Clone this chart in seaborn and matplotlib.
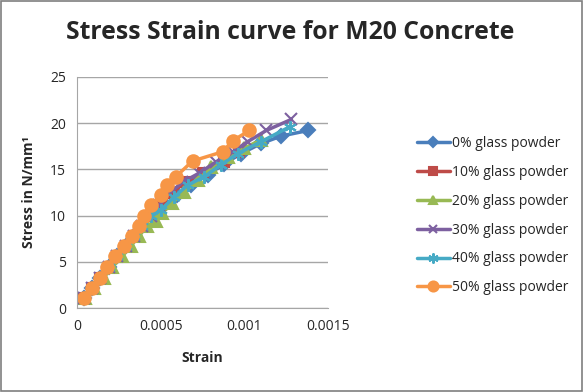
import matplotlib
matplotlib.use("Agg")
import matplotlib.pyplot as plt
import seaborn as sns
import pandas as pd

# values
labels = ["0% glass powder", "10% glass powder", "20% glass powder",
          "30% glass powder", "40% glass powder", "50% glass powder"]

strain_0 = [0.00004, 0.00009, 0.00014, 0.00019, 0.00024, 0.00029, 0.00034, 0.00039, 0.00045,
            0.00052, 0.00060, 0.00068, 0.00078, 0.00088, 0.00098, 0.00110, 0.00122, 0.00138]
stress_0 = [1.1, 2.2, 3.3, 4.4, 5.6, 6.7, 7.8, 8.9, 10.0, 11.1, 12.2, 13.3, 14.4, 15.6, 16.7,
            17.8, 18.6, 19.2]

strain_10 = [0.00004, 0.00009, 0.00014, 0.00019, 0.00024, 0.00029, 0.00034, 0.00039, 0.00044,
             0.00050, 0.00056, 0.00065, 0.00075, 0.00088, 0.00097]
stress_10 = [1.1, 2.2, 3.3, 4.4, 5.6, 6.7, 7.8, 8.9, 10.0, 11.1, 12.4, 13.6, 14.6, 15.8, 16.9]

strain_20 = [0.00005, 0.00010, 0.00016, 0.00021, 0.00027, 0.00032, 0.00037, 0.00042, 0.00047,
             0.00051, 0.00057, 0.00064, 0.00072, 0.00080, 0.00090, 0.00100, 0.00110]
stress_20 = [1.1, 2.2, 3.3, 4.4, 5.6, 6.7, 7.8, 8.9, 9.4, 10.3, 11.4, 12.5, 13.8, 15.2, 16.3,
             17.3, 18.2]

strain_30 = [0.00004, 0.00009, 0.00014, 0.00019, 0.00024, 0.00029, 0.00034, 0.00039, 0.00044,
             0.00049, 0.00055, 0.00063, 0.00073, 0.00083, 0.00093, 0.00102, 0.00113, 0.00128]
stress_30 = [1.1, 2.2, 3.3, 4.4, 5.6, 6.7, 7.8, 8.9, 10.0, 11.1, 12.4, 13.6, 14.6, 15.8, 16.9,
             18.0, 19.2, 20.4]

strain_40 = [0.00004, 0.00009, 0.00014, 0.00019, 0.00024, 0.00029, 0.00034, 0.00039, 0.00044,
             0.00050, 0.00058, 0.00066, 0.00076, 0.00086, 0.00096, 0.00110, 0.00127]
stress_40 = [1.1, 2.2, 3.3, 4.4, 5.6, 6.7, 7.8, 8.9, 10.0, 10.6, 12.0, 13.3, 14.2, 15.5, 16.7,
             18.0, 19.6]

strain_50 = [0.00004, 0.00009, 0.00014, 0.00018, 0.00023, 0.00028, 0.00033, 0.00037, 0.00040,
             0.00044, 0.00050, 0.00054, 0.00059, 0.00069, 0.00087, 0.00093, 0.00103]
stress_50 = [1.1, 2.2, 3.3, 4.4, 5.6, 6.7, 7.8, 8.9, 10.0, 11.1, 12.2, 13.3, 14.2, 15.9, 16.9,
             18.1, 19.2]

strains = [strain_0, strain_10, strain_20, strain_30, strain_40, strain_50]
stresses = [stress_0, stress_10, stress_20, stress_30, stress_40, stress_50]

colors = ["#4A7EBB", "#BE4B48", "#98B954", "#7D60A0", "#46AAC5", "#F79646"]
markers = ["D", "s", "^", "x", (6, 2, 0), "o"]
msizes = [7, 7, 8, 8, 9, 9]

sns.set_style("white")
plt.rcParams["font.family"] = ["Open Sans", "DejaVu Sans"]

fig = plt.figure(figsize=(5.83, 3.92), dpi=100)
ax = fig.add_axes([0.132, 0.214, 0.431, 0.59])

for lab, xs, ys, c, m, ms in zip(labels, strains, stresses, colors, markers, msizes):
    df = pd.DataFrame({"Strain": xs, "Stress": ys})
    sns.lineplot(data=df, x="Strain", y="Stress", sort=False, ax=ax, color=c,
                 linewidth=2.5, marker=m, markersize=ms, markeredgecolor=c,
                 markeredgewidth=1.5, label=lab)

ax.set_xlim(0, 0.0015)
ax.set_ylim(0, 25)
ax.set_xticks([0, 0.0005, 0.001, 0.0015])
ax.set_xticklabels(["0", "0.0005", "0.001", "0.0015"])
ax.set_yticks([0, 5, 10, 15, 20, 25])
ax.tick_params(labelsize=10, length=0, pad=8)
ax.yaxis.grid(True, color="#A6A6A6", linewidth=1)
for s in ["top", "right"]:
    ax.spines[s].set_visible(False)
for s in ["left", "bottom"]:
    ax.spines[s].set_color("#A6A6A6")

ax.set_xlabel("Strain", fontsize=10, fontweight="bold", labelpad=12)
ax.set_ylabel("Stress in N/mm\u00b9", fontsize=10, fontweight="bold", labelpad=10)

fig.suptitle("Stress Strain curve for M20 Concrete", fontsize=17.8, fontweight="bold",
             x=0.497, y=0.95)

ax.legend(loc="center left", bbox_to_anchor=(1.33, 0.40), frameon=False, fontsize=10,
          handlelength=2.4, handletextpad=0.15, labelspacing=1.0, borderaxespad=0,
          markerscale=0.8)

fig.patches.append(plt.Rectangle((0.002, 0.002), 0.996, 0.995, transform=fig.transFigure,
                                 fill=False, edgecolor="#7F7F7F", linewidth=1.2))

fig.savefig("out.png", dpi=100)
